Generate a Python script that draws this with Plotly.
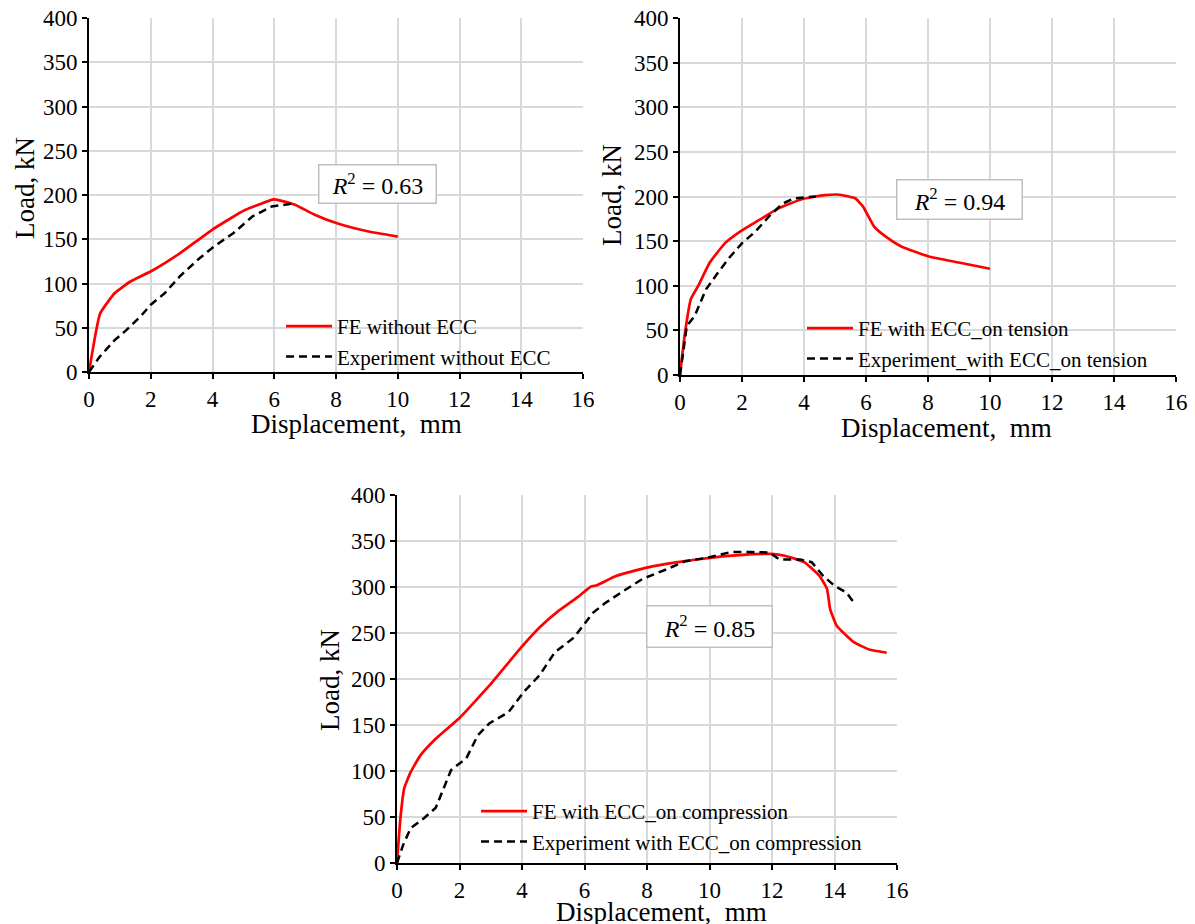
import plotly.graph_objects as go

W, H = 1195, 924

# ---- Panel 1: without ECC ----
fe1_x = [0, 0.36, 0.83, 1.33, 2.07, 2.94, 4.0, 5.05, 5.98, 6.17, 6.67, 7.29, 8.03, 9.02, 10.0]
fe1_y = [0, 66, 89, 102, 115, 134, 161, 183, 195, 194, 189, 178, 168, 159, 153]
ex1_x = [0, 0.34, 0.83, 1.2, 1.7, 2.0, 2.45, 2.94, 3.56, 4.06, 4.68, 5.3, 5.92, 6.54]
ex1_y = [0, 17, 36, 47, 64, 76, 89, 108, 128, 142, 157, 176, 187, 190]

# ---- Panel 2: ECC on tension ----
fe2_x = [0, 0.16, 0.35, 0.59, 0.96, 1.46, 1.95, 2.57, 3.19, 3.93, 4.67, 5.16, 5.65, 5.9, 6.27, 6.64, 7.14, 8.0, 8.99, 10.0]
fe2_y = [0, 47, 85, 100, 126, 148, 161, 174, 187, 197, 201.5, 202, 198, 189, 166, 155, 144, 133, 126, 119]
ex2_x = [0, 0.12, 0.22, 0.47, 0.84, 1.21, 1.58, 2.01, 2.44, 2.88, 3.31, 3.68, 4.38]
ex2_y = [0, 29, 55, 66, 96, 114, 131, 148, 161, 178, 192, 198, 200]

# ---- Panel 3: ECC on compression ----
fe3_x = [0, 0.11, 0.23, 0.44, 0.75, 1.24, 1.98, 2.96, 3.94, 4.56, 5.17, 5.78, 6.21, 6.4, 7.01, 7.99, 8.98,
         10.08, 11.06, 11.98, 12.41, 13.03, 13.52, 13.76, 13.86, 14.07, 14.62, 15.11, 15.67]
fe3_y = [0, 49, 81, 99, 117, 135, 157, 193, 233, 256, 274, 289, 300.5, 302, 312, 321, 327,
         332, 335, 336, 334, 327, 312, 298, 276, 258, 240, 232, 228.5]
ex3_x = [0, 0.2, 0.44, 0.87, 1.24, 1.49, 1.73, 2.22, 2.59, 2.96, 3.57, 4.06, 4.56, 5.05, 5.66, 6.27, 6.64,
         7.26, 7.87, 8.61, 9.22, 9.96, 10.69, 11.31, 11.92, 12.23, 12.9, 13.27, 13.64, 14.01, 14.38, 14.62]
ex3_y = [0, 20, 38, 49, 60, 81, 101, 114, 139, 152, 164, 186, 204, 229, 245, 272, 282,
         296, 309, 319, 328, 332, 338, 338, 337.5, 330, 330, 327, 312, 301, 294, 283]

r2_labels = ["0.63", "0.94", "0.85"]
names = [("FE without ECC", "Experiment without ECC"),
         ("FE with ECC_on tension", "Experiment_with ECC_on tension"),
         ("FE with ECC_on compression", "Experiment with ECC_on compression")]

SERIF = "Liberation Serif"
RED = "#ff0000"

def px_x(p):
    return p / W

def px_y(p):
    return 1 - p / H

# panel pixel boxes: left, right, top, bottom
boxes = [(89, 583, 18, 372), (680, 1176, 18, 375), (397, 897, 495, 863)]

fig = go.Figure()
series = [(fe1_x, fe1_y, ex1_x, ex1_y), (fe2_x, fe2_y, ex2_x, ex2_y), (fe3_x, fe3_y, ex3_x, ex3_y)]
for i, (fx, fy, ex, ey) in enumerate(series):
    sfx = "" if i == 0 else str(i + 1)
    leg = "legend" if i == 0 else "legend" + str(i + 1)
    fig.add_trace(go.Scatter(x=fx, y=fy, mode="lines", name=names[i][0],
                             line=dict(color=RED, width=2.7, shape="spline", smoothing=0.4),
                             xaxis="x" + sfx, yaxis="y" + sfx, legend=leg))
    fig.add_trace(go.Scatter(x=ex, y=ey, mode="lines", name=names[i][1],
                             line=dict(color="black", width=2.5, dash="8px,5px"),
                             xaxis="x" + sfx, yaxis="y" + sfx, legend=leg))

layout = dict(template="none", width=W, height=H, margin=dict(l=0, r=0, t=0, b=0, autoexpand=False),
              paper_bgcolor="white", plot_bgcolor="white",
              font=dict(family=SERIF, size=21, color="black"))

for i, (l, r, t, b) in enumerate(boxes):
    sfx = "" if i == 0 else str(i + 1)
    for ax, dom, rng, dt, anc in (("xaxis", [px_x(l), px_x(r)], [0, 16], 2, "y"),
                                   ("yaxis", [px_y(b), px_y(t)], [0, 400], 50, "x")):
        layout[ax + sfx] = dict(showline=True, linecolor="black", linewidth=2,
                                showgrid=True, gridcolor="#d9d9d9", gridwidth=1.5,
                                ticks="outside", ticklen=5, tickwidth=1.5, tickcolor="black",
                                zeroline=False, automargin=False,
                                tickfont=dict(family=SERIF, size=23, color="black"),
                                domain=dom, range=rng, dtick=dt, tick0=0,
                                anchor=anc + sfx)

legend_pos = [(281, 306), (802, 308), (476, 791)]
for i, (lx, ly) in enumerate(legend_pos):
    key = "legend" if i == 0 else "legend" + str(i + 1)
    layout[key] = dict(x=px_x(lx), y=px_y(ly), xanchor="left", yanchor="top",
                       bgcolor="rgba(0,0,0,0)", borderwidth=0, itemwidth=46,
                       font=dict(family=SERIF, size=21, color="black"), tracegroupgap=0)

annotations = []
# R^2 boxes
r2_boxes = [(377, 183.5, 116, 37), (959, 199, 124, 38), (709, 626, 124, 40)]
for (cx, cy, bw, bh), lab in zip(r2_boxes, r2_labels):
    annotations.append(dict(x=px_x(cx), y=px_y(cy), xref="paper", yref="paper",
                            text="<i>R</i><sup>2</sup> = " + lab, showarrow=False,
                            font=dict(family=SERIF, size=24, color="black"),
                            width=bw, height=bh, bordercolor="#bfbfbf", borderwidth=1.5,
                            borderpad=0, bgcolor="white", xanchor="center", yanchor="middle"))
# axis titles
xt = [(356, 424), (946, 428), (661, 912)]
yt = [(25, 188), (612, 195), (330, 680)]
for (cx, cy) in xt:
    annotations.append(dict(x=px_x(cx), y=px_y(cy), xref="paper", yref="paper",
                            text="Displacement,\u00a0 mm", showarrow=False,
                            font=dict(family=SERIF, size=27, color="black"),
                            xanchor="center", yanchor="middle"))
for (cx, cy) in yt:
    annotations.append(dict(x=px_x(cx), y=px_y(cy), xref="paper", yref="paper",
                            text="Load, kN", showarrow=False, textangle=-90,
                            font=dict(family=SERIF, size=27, color="black"),
                            xanchor="center", yanchor="middle"))
layout["annotations"] = annotations
fig.update_layout(**layout)
fig.write_html("out.html")
